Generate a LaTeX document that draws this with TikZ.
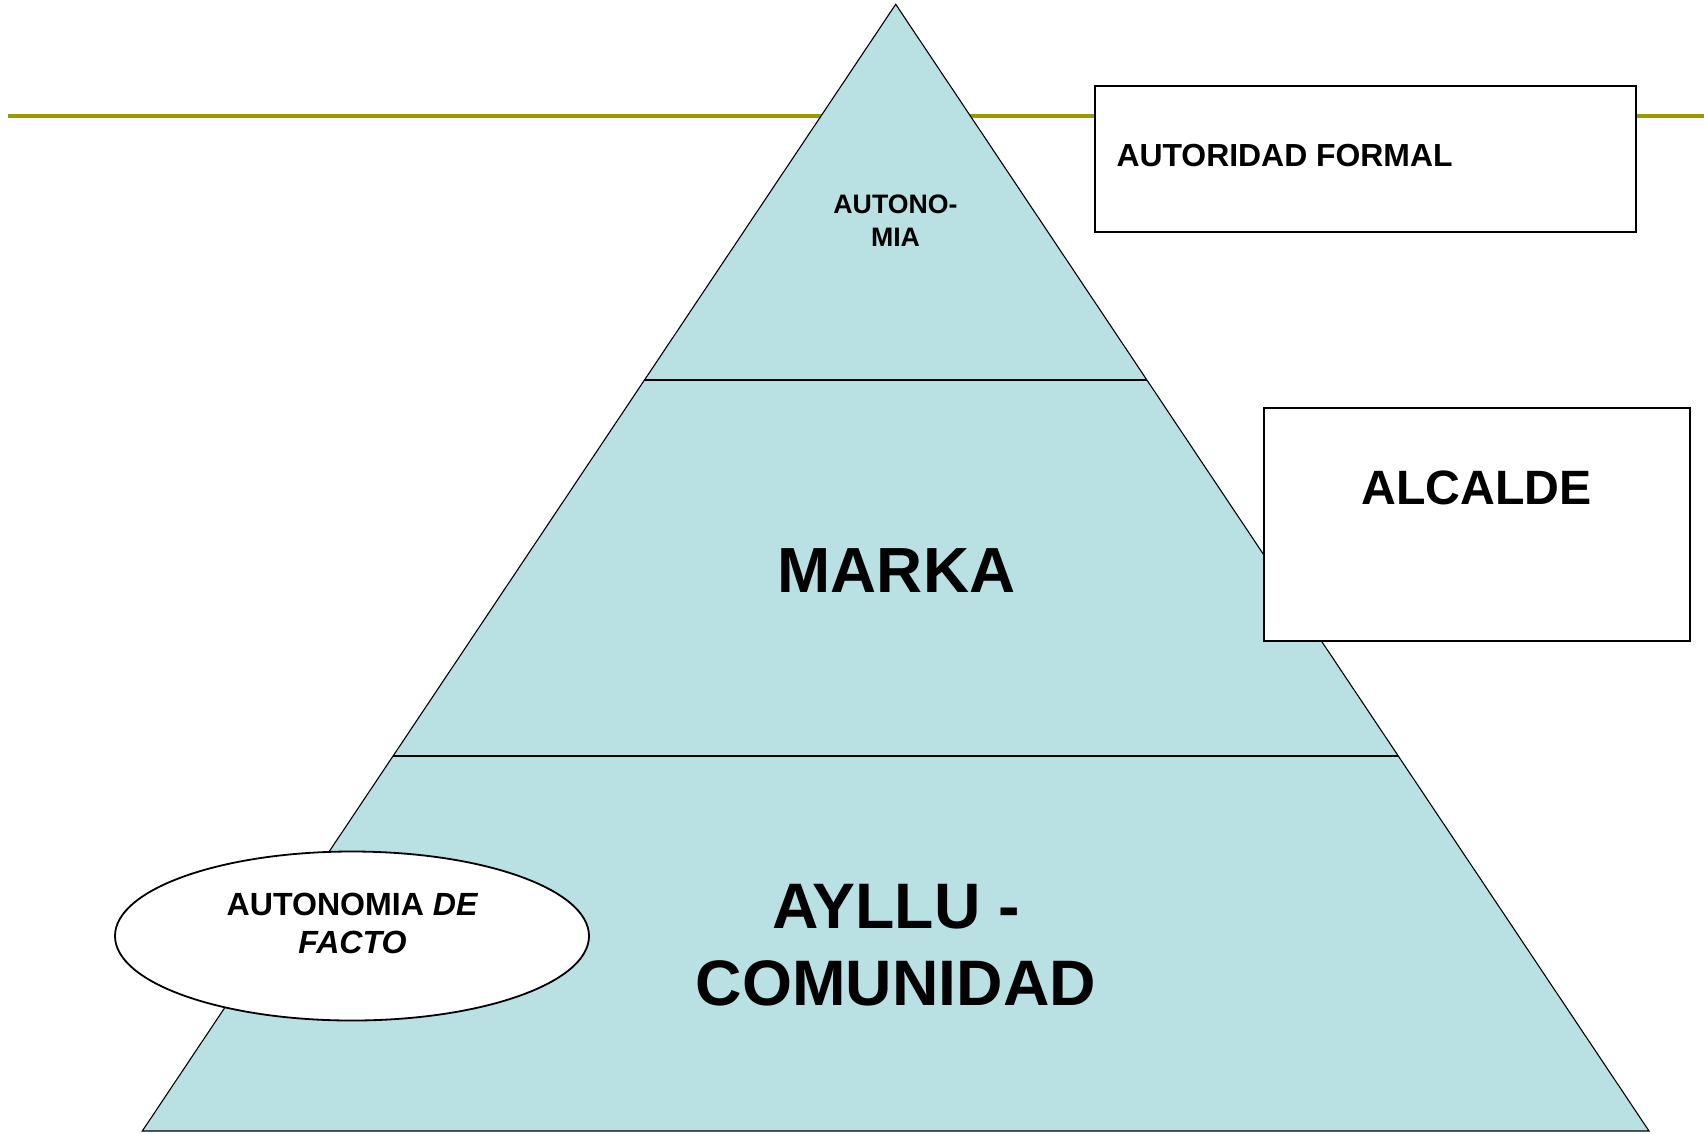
\documentclass[tikz,border=0pt]{standalone}
\usepackage{fontspec}
\setmainfont{Liberation Sans}
\usetikzlibrary{shapes.geometric,calc}
\definecolor{pyrfill}{RGB}{185,224,227}
\definecolor{olivebar}{RGB}{153,153,0}
\begin{document}
\begin{tikzpicture}[x=1pt,y=-1pt,
  boxstyle/.style={draw=black,line width=1.8pt,fill=white,rectangle,inner sep=0pt},
  txt/.style={inner sep=0pt,outer sep=0pt,font=\bfseries,text=black,align=center}]
\useasboundingbox (0,0) rectangle (1704,1133);
% olive rule
\coordinate (ruleL) at (8,116);
\coordinate (ruleR) at (1704,116);
\draw[olivebar,line width=4pt] (ruleL) -- (ruleR);
% pyramid
\coordinate (apex) at (895.7,4.3);
\coordinate (bl) at (142.3,1131);
\coordinate (br) at (1649,1131);
\fill[pyrfill] (apex) -- (bl) -- (br) -- cycle;
\draw[black,line width=1.1pt,line join=miter] (apex) -- (bl) -- (br) -- cycle;
\coordinate (l1a) at ($(apex)!0.3335!(bl)$);
\coordinate (l1b) at ($(apex)!0.3335!(br)$);
\coordinate (l2a) at ($(apex)!0.6669!(bl)$);
\coordinate (l2b) at ($(apex)!0.6669!(br)$);
\draw[black,line width=1.8pt] (l1a) -- (l1b);
\draw[black,line width=1.8pt] (l2a) -- (l2b);
% boxes
\node[boxstyle,minimum width=541pt,minimum height=146pt] (formal) at (1365.25,159) {};
\node[boxstyle,minimum width=426pt,minimum height=233pt] (alcalde) at (1477,524.2) {};
\node[draw=black,line width=1.8pt,fill=white,ellipse,inner sep=0pt,minimum width=474pt,minimum height=169pt] (facto) at (352,936) {};
% texts
\node[txt,anchor=center,font=\bfseries\fontsize{26.7}{32.6}\selectfont] (tautonomia) at (895.5,220.8) {AUTONO-\\MIA};
\node[txt,anchor=base,font=\bfseries\fontsize{63.8}{77.4}\selectfont] (tmarka) at (896.5,592.7) {MARKA};
\node[txt,anchor=center,font=\bfseries\fontsize{64.3}{77.4}\selectfont] (tayllu) at (896,945.2) {AYLLU -\\COMUNIDAD};
\node[txt,anchor=base west,font=\bfseries\fontsize{31.9}{38}\selectfont] (tformal) at (1116.5,166.7) {AUTORIDAD FORMAL};
\node[txt,anchor=base,font=\bfseries\fontsize{48.2}{58}\selectfont] (talcalde) at (1476.5,504.3) {ALCALDE};
\node[txt,anchor=center,font=\bfseries\fontsize{32.1}{38.3}\selectfont] (tfacto) at (352.5,923.2) {AUTONOMIA \textit{DE}\\\textit{FACTO}};
\end{tikzpicture}
\end{document}
